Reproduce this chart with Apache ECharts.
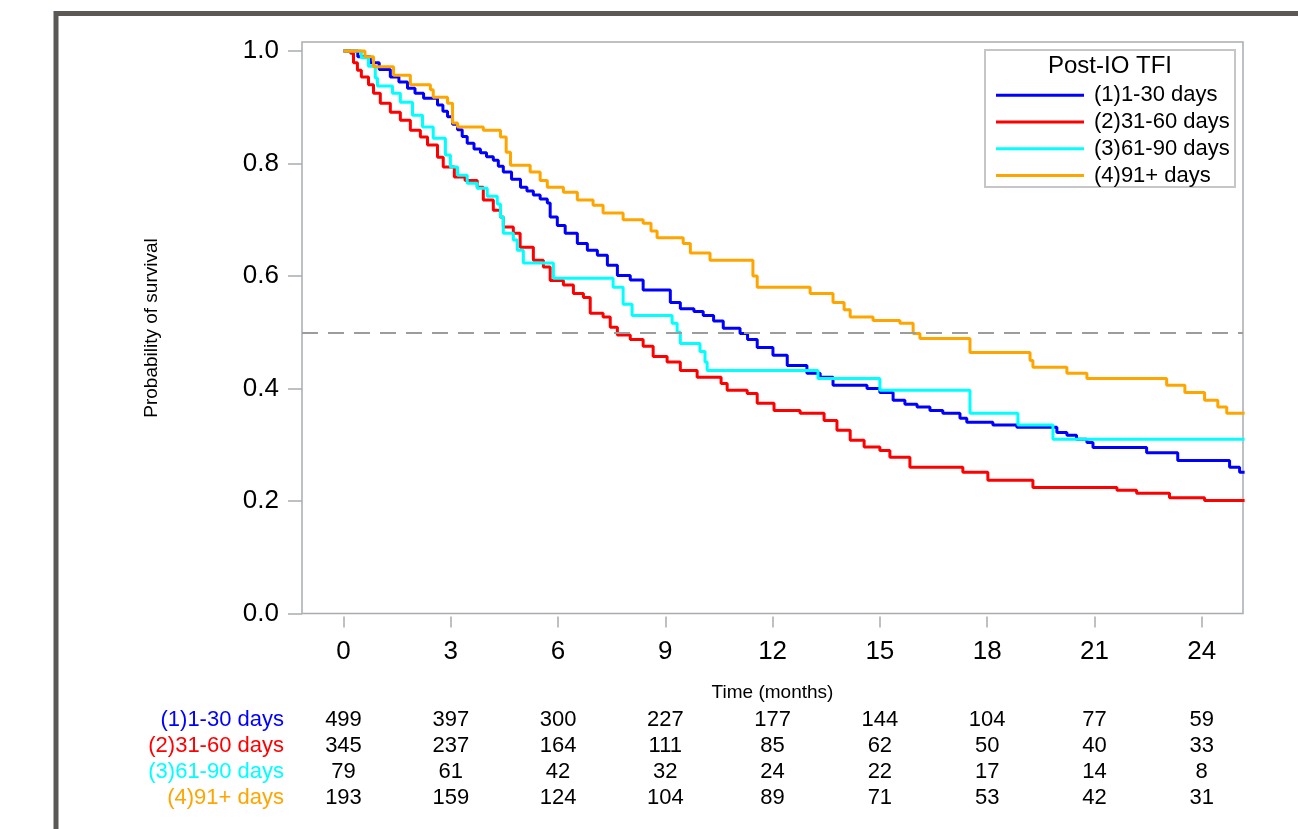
<!DOCTYPE html>
<html>
<head>
<meta charset="utf-8">
<script src="https://cdn.jsdelivr.net/npm/echarts@6.0.0/dist/echarts.min.js"></script>
<style>
html,body{margin:0;padding:0;background:#fff;}
#container{width:1298px;height:829px;}
</style>
</head>
<body>
<div id="container"></div>
<script>
var FONT = '"Liberation Sans", Arial, sans-serif';

var groupNames = ['(1)1-30 days', '(2)31-60 days', '(3)61-90 days', '(4)91+ days'];
var groupColors = ['#0000ff', '#ff0000', '#00ffff', '#ffa500'];

// KM step points: time of drop (months), survival after drop
var time1 = [0, 0.4, 0.75, 1.0, 1.31, 1.55, 1.79, 2.0, 2.24, 2.63, 2.78, 2.91, 3.05, 3.19, 3.32, 3.46, 3.65, 3.83, 4.0, 4.19, 4.33, 4.47, 4.7, 4.95, 5.13, 5.31, 5.5, 5.7, 5.78, 5.98, 6.2, 6.54, 6.82, 7.1, 7.38, 7.66, 8.02, 8.38, 9.14, 9.42, 9.8, 10.06, 10.35, 10.62, 11.09, 11.3, 11.57, 12.01, 12.41, 12.96, 13.33, 13.69, 14.64, 15.0, 15.37, 15.7, 16.04, 16.4, 16.76, 17.24, 17.43, 18.16, 18.83, 19.95, 20.23, 20.5, 20.79, 20.96, 22.46, 23.33, 24.78, 25.06, 25.2];
var surv1 = [1.0, 0.99, 0.979, 0.967, 0.954, 0.945, 0.934, 0.925, 0.916, 0.904, 0.893, 0.883, 0.870, 0.860, 0.848, 0.836, 0.826, 0.819, 0.812, 0.806, 0.795, 0.785, 0.772, 0.758, 0.751, 0.744, 0.737, 0.730, 0.705, 0.690, 0.676, 0.658, 0.646, 0.637, 0.619, 0.601, 0.593, 0.575, 0.553, 0.542, 0.537, 0.530, 0.520, 0.507, 0.498, 0.487, 0.473, 0.459, 0.441, 0.427, 0.420, 0.406, 0.400, 0.393, 0.379, 0.372, 0.367, 0.361, 0.356, 0.347, 0.340, 0.335, 0.331, 0.322, 0.317, 0.310, 0.304, 0.295, 0.286, 0.272, 0.260, 0.251, 0.251];

var time2 = [0, 0.2, 0.28, 0.39, 0.5, 0.7, 0.84, 1.03, 1.31, 1.59, 1.87, 2.15, 2.35, 2.63, 2.79, 3.1, 3.4, 3.74, 3.91, 4.19, 4.39, 4.47, 4.75, 4.94, 5.31, 5.59, 5.78, 6.15, 6.43, 6.71, 6.9, 7.26, 7.46, 7.66, 8.02, 8.38, 8.66, 9.05, 9.42, 9.89, 10.56, 10.73, 11.29, 11.57, 12.04, 12.77, 13.44, 13.8, 14.17, 14.56, 15.0, 15.28, 15.84, 17.32, 18.02, 19.28, 21.63, 22.18, 23.1, 24.08, 25.2];
var surv2 = [1.0, 0.996, 0.979, 0.966, 0.954, 0.94, 0.925, 0.907, 0.891, 0.877, 0.859, 0.847, 0.833, 0.811, 0.794, 0.776, 0.770, 0.758, 0.735, 0.717, 0.705, 0.687, 0.676, 0.651, 0.628, 0.616, 0.592, 0.584, 0.569, 0.562, 0.534, 0.527, 0.509, 0.495, 0.487, 0.475, 0.457, 0.447, 0.432, 0.420, 0.409, 0.397, 0.391, 0.374, 0.361, 0.356, 0.343, 0.326, 0.308, 0.296, 0.290, 0.278, 0.260, 0.251, 0.237, 0.224, 0.219, 0.214, 0.206, 0.201, 0.201];

var time3 = [0, 0.5, 0.7, 0.89, 0.95, 1.37, 1.59, 1.93, 2.21, 2.51, 2.85, 2.99, 3.19, 3.46, 3.74, 4.02, 4.30, 4.39, 4.47, 4.75, 4.86, 5.03, 5.87, 7.54, 7.82, 8.07, 9.19, 9.33, 9.42, 9.97, 10.11, 10.17, 13.27, 15.0, 17.52, 18.86, 19.84, 25.2];
var surv3 = [1.0, 0.988, 0.973, 0.952, 0.938, 0.925, 0.909, 0.886, 0.865, 0.845, 0.815, 0.794, 0.779, 0.765, 0.756, 0.742, 0.728, 0.705, 0.676, 0.664, 0.646, 0.623, 0.596, 0.580, 0.550, 0.530, 0.516, 0.500, 0.480, 0.466, 0.447, 0.432, 0.418, 0.397, 0.356, 0.335, 0.310, 0.310];

var time4 = [0, 0.6, 0.84, 1.4, 1.87, 2.43, 2.51, 2.91, 3.05, 3.19, 3.91, 4.39, 4.55, 4.67, 5.22, 5.5, 5.7, 6.15, 6.54, 6.98, 7.26, 7.82, 8.38, 8.6, 8.77, 9.5, 9.7, 10.25, 11.45, 11.57, 13.05, 13.69, 14.0, 14.17, 14.81, 15.56, 15.93, 16.12, 17.52, 19.2, 19.28, 20.23, 20.79, 23.02, 23.53, 24.08, 24.45, 24.7, 25.2];
var surv4 = [1.0, 0.99, 0.972, 0.957, 0.940, 0.931, 0.918, 0.907, 0.872, 0.865, 0.859, 0.847, 0.82, 0.797, 0.785, 0.77, 0.758, 0.749, 0.735, 0.726, 0.712, 0.700, 0.694, 0.68, 0.668, 0.658, 0.641, 0.628, 0.60, 0.580, 0.569, 0.553, 0.54, 0.527, 0.521, 0.516, 0.498, 0.489, 0.464, 0.450, 0.438, 0.427, 0.418, 0.406, 0.393, 0.379, 0.367, 0.356, 0.356];

// number at risk table
var riskTimes = [0, 3, 6, 9, 12, 15, 18, 21, 24];
var risk1 = [499, 397, 300, 227, 177, 144, 104, 77, 59];
var risk2 = [345, 237, 164, 111, 85, 62, 50, 40, 33];
var risk3 = [79, 61, 42, 32, 24, 22, 17, 14, 8];
var risk4 = [193, 159, 124, 104, 89, 71, 53, 42, 31];

var yTicks = [0, 0.2, 0.4, 0.6, 0.8, 1.0];

function zip(t, s) {
    var out = [];
    for (var i = 0; i < t.length; i++) out.push([t[i], s[i]]);
    return out;
}

var times = [time1, time2, time3, time4];
var survs = [surv1, surv2, surv3, surv4];
var risks = [risk1, risk2, risk3, risk4];

var dom = document.getElementById('container');
var myChart = echarts.init(dom);

var series = [];
for (var g = 0; g < 4; g++) {
    series.push({
        name: groupNames[g],
        type: 'line',
        step: 'end',
        symbol: 'none',
        clip: true,
        data: zip(times[g], survs[g]),
        itemStyle: {color: groupColors[g]},
        lineStyle: {color: groupColors[g], width: 3}
    });
}
series[0].markLine = {
    silent: true,
    symbol: 'none',
    label: {show: false},
    lineStyle: {type: [16, 10], color: '#9c9c9c', width: 2},
    data: [{yAxis: 0.5}]
};

var option = {
    animation: false,
    backgroundColor: '#fff',
    textStyle: {fontFamily: FONT},
    grid: {
        left: 302,
        right: 55,
        top: 42,
        bottom: 215.5,
        show: true,
        borderColor: '#a9adb1',
        borderWidth: 1.5,
        backgroundColor: 'transparent'
    },
    xAxis: {
        type: 'value',
        min: -1.16,
        max: 25.155,
        offset: 3,
        axisLine: {show: false, onZero: false},
        splitLine: {show: false},
        axisTick: {show: true, length: 11, customValues: riskTimes, lineStyle: {color: '#a9adb1', width: 1.5}},
        axisLabel: {customValues: riskTimes, fontSize: 26, color: '#000', margin: 22, fontFamily: FONT}
    },
    yAxis: {
        type: 'value',
        min: 0,
        max: 1.016,
        axisLine: {show: false, onZero: false},
        splitLine: {show: false},
        axisTick: {show: true, length: 14, customValues: yTicks, lineStyle: {color: '#a9adb1', width: 1.5}},
        axisLabel: {
            customValues: yTicks, fontSize: 26, color: '#000', margin: 23, fontFamily: FONT,
            formatter: function (v) { return v.toFixed(1); }
        }
    },
    legend: {
        orient: 'vertical',
        left: 991,
        top: 77,
        icon: 'rect',
        itemWidth: 88,
        itemHeight: 3,
        itemGap: 0,
        textStyle: {fontSize: 22, color: '#000', lineHeight: 26.7, padding: [0, 0, 0, 5], fontFamily: FONT},
        data: groupNames
    },
    series: series
};

myChart.setOption(option, true);

// frame, titles and the at-risk table
var graphics = [
    {type: 'rect', silent: true, shape: {x: 56, y: 13.5, width: 1500, height: 1000},
     style: {fill: 'none', stroke: '#5c5855', lineWidth: 5}},
    {type: 'rect', silent: true, shape: {x: 985, y: 50, width: 250, height: 137},
     style: {fill: 'none', stroke: '#c6c6c6', lineWidth: 2}},
    {type: 'text', x: 1110, y: 66, silent: true,
     style: {text: 'Post-IO TFI', fill: '#000', font: '24px ' + FONT, align: 'center', verticalAlign: 'middle', textAlign: 'center', textVerticalAlign: 'middle'}},
    {type: 'text', x: 152, y: 328, rotation: Math.PI / 2, silent: true,
     style: {text: 'Probability of survival', fill: '#000', font: '19px ' + FONT, align: 'center', verticalAlign: 'middle', textAlign: 'center', textVerticalAlign: 'middle'}},
    {type: 'text', x: 772.5, y: 693, silent: true,
     style: {text: 'Time (months)', fill: '#000', font: '19px ' + FONT, align: 'center', verticalAlign: 'middle', textAlign: 'center', textVerticalAlign: 'middle'}}
];

var rowY = [720, 746, 772, 798];
for (var r = 0; r < 4; r++) {
    graphics.push({type: 'text', x: 284, y: rowY[r], silent: true,
        style: {text: groupNames[r], fill: groupColors[r], font: '22px ' + FONT, align: 'right', verticalAlign: 'middle', textAlign: 'right', textVerticalAlign: 'middle'}});
    for (var k = 0; k < riskTimes.length; k++) {
        var px = myChart.convertToPixel({xAxisIndex: 0}, riskTimes[k]);
        graphics.push({type: 'text', x: px, y: rowY[r], silent: true,
            style: {text: String(risks[r][k]), fill: '#000', font: '22px ' + FONT, align: 'center', verticalAlign: 'middle', textAlign: 'center', textVerticalAlign: 'middle'}});
    }
}

myChart.setOption({graphic: graphics});
</script>
</body>
</html>
